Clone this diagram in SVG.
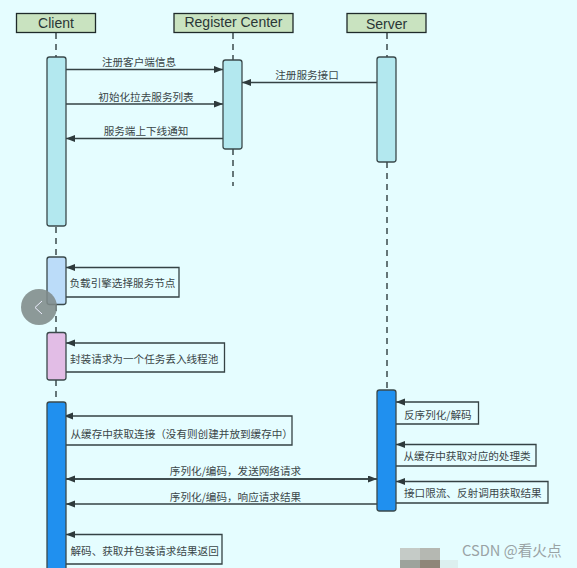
<svg xmlns="http://www.w3.org/2000/svg" width="577" height="568" viewBox="0 0 577 568">
<style>
.bg{fill:#e5fdff}
.head{fill:#c9e3c0;stroke:#1f2a2a;stroke-width:1.3}
.ht{font:14px "Liberation Sans",Arial,sans-serif;fill:#2a3636;text-anchor:middle}
.t{font:10.6px "Noto Sans CJK SC",sans-serif;fill:#3a4648}
.m{text-anchor:middle}
.life{stroke:#3b4a4c;stroke-width:1.5;stroke-dasharray:6 5;fill:none}
.bar{stroke:#3b4a4c;stroke-width:1.3}
.line{stroke:#354244;stroke-width:1.3;fill:none;marker-end:url(#a)}
</style>
<defs>
<marker id="a" markerUnits="userSpaceOnUse" markerWidth="10" markerHeight="8" refX="9" refY="3.500" orient="auto"><path d="M0 0L9 3.500L0 7Z" fill="#2e3a3c"/></marker>
</defs>
<rect class="bg" width="577" height="568"/>
<g id="connectors">
<path class="life" d="M56 33V57M56 227V257M56 305V332M56 380V402"/>
<path class="life" d="M233 33V60M233 149V186"/>
<path class="life" d="M387 33V57M387 162V390"/>
<path class="line" d="M66 69.5H223"/>
<path class="line" d="M66 104H223"/>
<path class="line" d="M223 138.500H66"/>
<path class="line" d="M377 82.500H242"/>
<path class="line" d="M66 297H179V267.500H66"/>
<path class="line" d="M66 372H224.500V343H66"/>
<path class="line" d="M66 445H292V416H64"/>
<path class="line" d="M66 479H377"/>
<path class="line" d="M377 479H66"/>
<path class="line" d="M377 504H66"/>
<path class="line" d="M66 564H222V534.500H66"/>
<path class="line" d="M396 424H478.500V402H396"/>
<path class="line" d="M396 466H536V444.500H396"/>
<path class="line" d="M396 503H548V481.500H396"/>
</g>
<g id="client"><rect class="head" x="16.500" y="13.500" width="79" height="19"/><text class="ht" x="56" y="28">Client</text></g>
<g id="register-center"><rect class="head" x="174" y="13.500" width="119" height="19"/><text class="ht" x="233.500" y="27">Register Center</text></g>
<g id="server"><rect class="head" x="347" y="13.500" width="79" height="19"/><text class="ht" x="386.500" y="28.500">Server</text></g>
<g id="client-bar-1"><rect class="bar" x="47" y="57" width="19" height="169" rx="2.500" fill="#b3e8ef"/></g>
<g id="register-bar"><rect class="bar" x="223" y="60" width="19" height="89" rx="2.500" fill="#b3e8ef"/></g>
<g id="server-bar-1"><rect class="bar" x="377" y="57" width="19" height="105" rx="2.500" fill="#b3e8ef"/></g>
<g id="client-bar-2"><rect class="bar" x="47" y="257" width="19" height="47.500" rx="2.500" fill="#bbdcf9"/></g>
<g id="client-bar-3"><rect class="bar" x="47" y="332.500" width="19" height="47.500" rx="2.500" fill="#e2bde6"/></g>
<g id="client-bar-4"><rect class="bar" x="47" y="402" width="19" height="175" rx="2.500" fill="#2090ef"/></g>
<g id="server-bar-2"><rect class="bar" x="377" y="390" width="19" height="121" rx="2.500" fill="#2090ef"/></g>
<g id="labels">
<text class="t m" x="139" y="65.500">注册客户端信息</text>
<text class="t m" x="146" y="100.500">初始化拉去服务列表</text>
<text class="t m" x="146" y="134.500">服务端上下线通知</text>
<text class="t m" x="307" y="79">注册服务接口</text>
<text class="t" x="69.500" y="287">负载引擎选择服务节点</text>
<text class="t" x="70" y="363">封装请求为一个任务丢入线程池</text>
<text class="t" x="70.500" y="437.500">从缓存中获取连接（没有则创建并放到缓存中）</text>
<text class="t m" x="235.500" y="475">序列化/编码，发送网络请求</text>
<text class="t m" x="235.500" y="501">序列化/编码，响应请求结果</text>
<text class="t" x="70.500" y="555">解码、获取并包装请求结果返回</text>
<text class="t" x="404" y="419">反序列化/解码</text>
<text class="t" x="403.500" y="460">从缓存中获取对应的处理类</text>
<text class="t" x="404" y="497">接口限流、反射调用获取结果</text>
</g>
<g id="back-button"><circle cx="39" cy="307" r="18" fill="#7f8b8a" fill-opacity=".88"/><path d="M42 301L35 307.500L42 314" fill="none" stroke="#eef" stroke-width="1"/></g>
<g id="overlay">
<rect x="440" y="560" width="18" height="8" fill="#dcefef"/>
<rect x="400" y="548" width="20" height="12" fill="#c5cbc7"/>
<rect x="420" y="548" width="20" height="12" fill="#b5b8b2"/>
<rect x="400" y="560" width="20" height="8" fill="#9da39c"/>
<rect x="420" y="560" width="20" height="8" fill="#8f8679"/>
<text x="462" y="556" style="font:14.700px 'Noto Sans CJK SC',sans-serif;fill:#9aa3a5">CSDN @看火点</text>
</g>
</svg>
